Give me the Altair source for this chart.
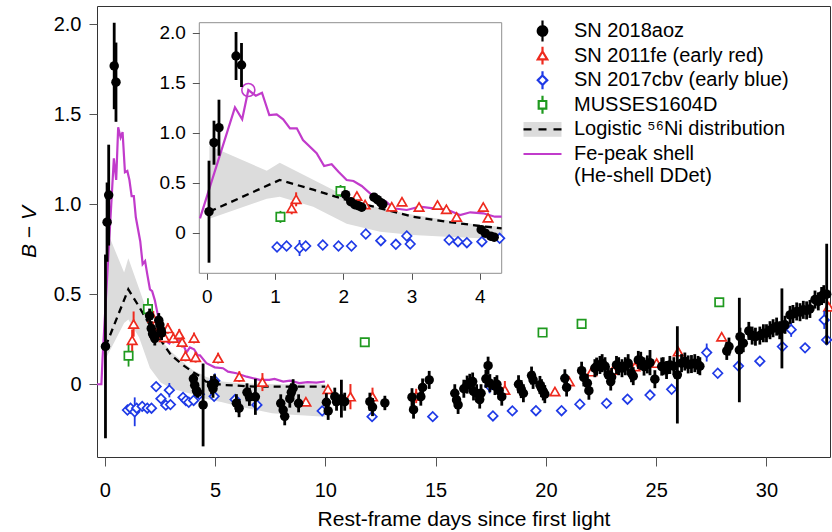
import altair as alt
import pandas as pd

FONT = "Liberation Sans"
BLACK = "#000000"
RED = "#ee2a1e"
BLUE = "#1f3ae6"
GREEN = "#1f9a1f"
MAGENTA = "#c13bcb"
BAND = "#dcdcdc"

# ---------------- data ----------------
# SN 2018aoz : rest-frame day, B-V, 1-sigma error
AOZ_DAY = [0.034, 0.107, 0.18, 0.43, 0.51,
           2.035, 2.11, 2.17, 2.22, 2.27, 2.45, 2.50, 2.55, 2.58,
           4.02, 4.08, 4.16, 4.21, 4.46, 4.84, 4.91, 4.98,
           5.97, 6.09, 6.45, 6.56, 6.83, 7.98, 8.09, 8.16, 8.39, 8.46, 8.54, 8.79,
           10.05, 10.13, 10.43, 10.51, 10.73, 10.88, 12.02, 12.14, 12.70,
           13.93, 14.00, 14.33, 14.41, 14.71, 15.87, 15.95, 16.02, 16.28, 16.43, 16.55,
           16.68, 16.72, 16.86, 17.00, 17.06, 17.28, 17.38, 17.46, 17.69, 17.78, 17.88, 18.00,
           18.76, 18.88, 18.98, 19.35, 19.42, 19.73, 19.80, 19.88, 19.95, 20.86, 20.94,
           21.62, 21.72, 21.88, 21.95, 22.22, 22.30, 22.45, 22.55, 22.68, 22.83, 22.94, 22.98,
           23.20, 23.30, 23.45, 23.60, 23.73, 23.88, 23.96, 24.19, 24.30, 24.45, 24.60, 24.72, 24.94,
           25.25, 25.32, 25.47, 25.62, 25.80, 25.96, 26.15, 26.30, 26.45, 26.60, 26.75, 26.90, 26.98,
           28.20, 28.30, 28.77, 28.80, 28.95, 29.20, 29.35, 29.50, 29.70, 29.86, 30.00,
           30.16, 30.30, 30.46, 30.60, 30.70, 30.84, 31.07, 31.20, 31.37, 31.52, 31.67, 31.82,
           31.97, 32.20, 32.35, 32.50, 32.60, 32.73]
AOZ_BV = [0.21, 0.90, 1.05, 1.767, 1.677,
          0.38, 0.31, 0.28, 0.27, 0.255, 0.355, 0.33, 0.30, 0.285,
          0.03, -0.005, -0.035, -0.045, -0.115, -0.004, -0.025, 0.005,
          -0.105, -0.133, -0.045, -0.07, -0.07, -0.106, -0.143, -0.178, -0.08, -0.045, -0.022, -0.106,
          -0.10, -0.148, -0.069, -0.097, -0.08, -0.097, -0.097, -0.127, -0.104,
          -0.072, -0.141, -0.069, -0.018, 0.024, -0.05, -0.087, -0.115, -0.025, -0.002, 0.008,
          0.015, -0.04, -0.05, -0.085, -0.05, 0.03, 0.103, 0.006, -0.01, 0.0, -0.035, -0.069,
          0.0, -0.027, -0.05, 0.048, 0.024, -0.004, -0.022, -0.04, -0.055, 0.033, -0.018,
          0.075, 0.038, 0.006, -0.036, 0.089, 0.098, 0.107, 0.117, 0.10, 0.052, 0.015, 0.04,
          0.107, 0.10, 0.089, 0.10, 0.117, 0.061, 0.045, 0.135, 0.13, 0.098, 0.11, 0.12, 0.028,
          0.098, 0.10, 0.079, 0.107, 0.10, 0.052, 0.117, 0.126, 0.11, 0.112, 0.117, 0.107, 0.10,
          0.185, 0.209, 0.19, 0.264, 0.228, 0.296, 0.27, 0.264, 0.27, 0.283, 0.283,
          0.30, 0.311, 0.32, 0.30, 0.31, 0.33, 0.385, 0.39, 0.404, 0.40, 0.413, 0.41,
          0.418, 0.47, 0.46, 0.49, 0.50, 0.50]
AOZ_ERR = [0.51, 0.22, 0.28, 0.24, 0.22,
           0.04, 0.04, 0.04, 0.04, 0.04, 0.04, 0.04, 0.04, 0.04,
           0.03, 0.03, 0.03, 0.03, 0.23, 0.05, 0.05, 0.05,
           0.05, 0.05, 0.05, 0.05, 0.10, 0.05, 0.05, 0.05, 0.05, 0.05, 0.05, 0.05,
           0.05, 0.05, 0.05, 0.05, 0.105, 0.05, 0.05, 0.05, 0.04,
           0.05, 0.05, 0.05, 0.05, 0.05, 0.05, 0.05, 0.05, 0.05, 0.05, 0.05,
           0.05, 0.05, 0.05, 0.05, 0.05, 0.05, 0.05, 0.05, 0.05, 0.05, 0.05, 0.05,
           0.05, 0.05, 0.05, 0.05, 0.05, 0.05, 0.05, 0.05, 0.05, 0.05, 0.05,
           0.05, 0.05, 0.05, 0.05, 0.05, 0.05, 0.05, 0.05, 0.05, 0.05, 0.05, 0.05,
           0.05, 0.05, 0.05, 0.05, 0.05, 0.05, 0.05, 0.05, 0.05, 0.05, 0.05, 0.07, 0.05,
           0.05, 0.05, 0.05, 0.05, 0.05, 0.27, 0.05, 0.05, 0.05, 0.05, 0.05, 0.05, 0.05,
           0.05, 0.05, 0.29, 0.05, 0.05, 0.05, 0.05, 0.05, 0.05, 0.05, 0.05,
           0.05, 0.05, 0.05, 0.05, 0.222, 0.05, 0.05, 0.05, 0.05, 0.05, 0.05, 0.05,
           0.05, 0.05, 0.05, 0.05, 0.05, 0.28]

# SN 2011fe (early red)
FE_DAY = [1.245, 1.31, 2.2, 2.32, 2.71, 2.86, 3.11, 3.38, 3.51, 3.66, 4.05, 4.12, 5.14, 6.1,
          7.15, 9.12, 10.12, 11.14, 12.14, 14.12, 18.14, 20.41, 21.06, 22.07, 23.05, 24.04,
          25.02, 26.0, 27.97, 32.82]
FE_BV = [0.244, 0.334, 0.367, 0.282, 0.26, 0.31, 0.257, 0.277, 0.234, 0.157, 0.257, 0.15, 0.145,
         0.042, 0.012, -0.097, -0.028, -0.069, -0.069, -0.065, -0.032, -0.04, 0.015, 0.07, 0.079,
         0.098, 0.117, 0.181, 0.264, 0.43]
FE_ERR = [0.06, 0.07, 0.04, 0.03, 0.03, 0.03, 0.03, 0.03, 0.03, 0.03, 0.03, 0.03, 0.03, 0.03,
          0.05, 0.02, 0.02, 0.07, 0.05, 0.04, 0.05, 0.02, 0.02, 0.02, 0.02, 0.02, 0.02, 0.02,
          0.02, 0.02]

# SN 2017cbv (early blue)
CBV_DAY = [1.03, 1.17, 1.36, 1.45, 1.70, 1.93, 2.12, 2.33, 2.55, 2.77, 2.93, 2.98, 3.55, 3.68,
           3.81, 4.03, 4.29, 4.96, 4.99, 5.91, 6.9, 9.86, 12.12, 14.87, 17.45, 17.6, 18.48,
           19.55, 20.71, 21.54, 22.75, 23.7, 24.72, 25.7, 27.29, 27.79, 28.73, 29.7, 30.72,
           31.12, 31.75, 32.62, 32.73]
CBV_BV = [-0.143, -0.133, -0.153, -0.133, -0.123, -0.133, -0.133, -0.013, -0.08, -0.116, -0.033,
          -0.113, -0.073, -0.09, -0.1, -0.09, -0.056, -0.067, 0.02, -0.085, -0.115, -0.148, -0.18,
          -0.18, -0.01, -0.176, -0.148, -0.147, -0.147, -0.111, -0.106, -0.083, -0.06, -0.028,
          0.176, 0.061, 0.101, 0.128, 0.209, 0.303, 0.202, 0.357, 0.246]
CBV_ERR = [0.02, 0.02, 0.08, 0.02, 0.02, 0.02, 0.02, 0.02, 0.02, 0.02, 0.04, 0.02, 0.02, 0.02,
           0.02, 0.02, 0.02, 0.02, 0.04, 0.02, 0.02, 0.02, 0.02, 0.02, 0.04, 0.02, 0.02, 0.02,
           0.02, 0.02, 0.02, 0.02, 0.02, 0.02, 0.05, 0.02, 0.02, 0.02, 0.02, 0.04, 0.02, 0.05,
           0.02]

# MUSSES1604D
MUS_DAY = [1.08, 1.96, 11.79, 19.85, 21.62, 27.86]
MUS_BV = [0.158, 0.417, 0.233, 0.287, 0.335, 0.455]
MUS_ERR = [0.06, 0.06, 0.0, 0.0, 0.0, 0.0]

# Logistic 56Ni distribution: median curve and range
NI_LINE_DAY = [0.04, 1.07, 1.56, 2.05, 2.54, 3.02, 3.51, 4.0, 4.32, 4.58, 5.33, 6.84, 8.5, 10.0]
NI_LINE_BV = [0.21, 0.527, 0.43, 0.327, 0.244, 0.16, 0.11, 0.067, 0.044, 0.015, -0.004, -0.013,
              -0.013, -0.013]
NI_BAND_DAY = [0.04, 0.88, 1.07, 1.56, 2.05, 2.54, 3.02, 3.51, 4.0, 4.32, 4.58, 5.33, 6.09, 7.59,
               8.5, 10.0]
NI_BAND_HI = [0.87, 0.62, 0.70, 0.53, 0.36, 0.245, 0.18, 0.127, 0.077, 0.06, 0.042, 0.015, 0.005,
              0.0, 0.0, 0.0]
NI_BAND_LO = [0.14, 0.34, 0.36, 0.26, 0.09, 0.01, -0.023, -0.04, -0.056, -0.07, -0.08, -0.1,
              -0.124, -0.161, -0.17, -0.18]

# Fe-peak shell (He-shell DDet) model
SHELL_DAY = [-0.35, -0.15, -0.098, 0.414, 0.52, 0.61, 0.72, 0.81, 0.917, 1.025, 1.12, 1.22, 1.32,
             1.41, 1.61, 1.72, 1.83, 1.93, 2.05, 2.15, 2.27, 2.42, 2.54, 2.63, 2.73, 2.93, 3.12,
             3.32, 3.51, 3.71, 3.86, 4.05, 4.22, 4.32, 4.61, 4.99, 5.36, 5.59, 5.97, 6.43, 6.73,
             7.03, 7.46, 7.7, 8.09, 8.4, 8.82, 9.2, 9.6, 9.98]
SHELL_BV = [0.0, 0.0, 0.144, 1.254, 1.134, 1.427, 1.37, 1.40, 1.177, 1.184, 1.134, 1.044, 1.044,
            0.927, 0.794, 0.667, 0.684, 0.61, 0.527, 0.517, 0.467, 0.377, 0.334, 0.31, 0.244,
            0.227, 0.26, 0.244, 0.234, 0.177, 0.204, 0.194, 0.16, 0.16, 0.117, 0.094, 0.089,
            0.07, 0.061, 0.042, 0.033, 0.024, 0.024, 0.03, 0.015, 0.02, 0.006, 0.012, 0.009,
            0.015]

LEGEND_LABELS = ["SN 2018aoz", "SN 2011fe (early red)", "SN 2017cbv (early blue)",
                 "MUSSES1604D", "Logistic \u2075\u2076Ni distribution",
                 "Fe-peak shell (He-shell DDet)"]

X_TICKS = [0, 5, 10, 15, 20, 25, 30]
Y_TICKS = [0, 0.5, 1.0, 1.5, 2.0]
INSET_X_TICKS = [0, 1, 2, 3, 4]

# ---------------- layout ----------------
MAIN_X = [-0.35, 32.88]
MAIN_Y = [-0.404, 2.10]
INSET_X = [-0.108, 4.32]
INSET_Y = [-0.406, 2.10]
W, H = 733, 451
INSET_RANGE_X = [102.3, 404.7]
INSET_RANGE_Y = [267.3, 16.7]


def points(day, bv, err):
    return pd.DataFrame({"day": day, "bv": bv,
                         "lo": [b - e for b, e in zip(bv, err)],
                         "hi": [b + e for b, e in zip(bv, err)]})


aoz = points(AOZ_DAY, AOZ_BV, AOZ_ERR)
fe = points(FE_DAY, FE_BV, FE_ERR)
cbv = points(CBV_DAY, CBV_BV, CBV_ERR)
mus = points(MUS_DAY, MUS_BV, MUS_ERR)
ni_line = pd.DataFrame({"day": NI_LINE_DAY, "bv": NI_LINE_BV})
ni_band = pd.DataFrame({"day": NI_BAND_DAY, "lo": NI_BAND_LO, "hi": NI_BAND_HI})
shell = pd.DataFrame({"day": SHELL_DAY, "bv": SHELL_BV})
peak = shell.loc[[shell["bv"].idxmax()]]
frame = pd.DataFrame({"x0": [INSET_X[0]], "x1": [INSET_X[1]],
                      "y0": [INSET_Y[0]], "y1": [INSET_Y[1]]})

Y_LABEL_EXPR = "datum.value == 0 ? '0' : format(datum.value, '.1f')"

main_x_axis = alt.Axis(values=X_TICKS, title="Rest-frame days since first light", orient="bottom",
                       domain=False, grid=False, tickSize=9, tickColor="#555",
                       labelFontSize=20, labelPadding=14, titleFontSize=21,
                       titleFontWeight="normal", titlePadding=8, labelFlush=False)
main_y_axis = alt.Axis(values=Y_TICKS, title="B \u2212 V", orient="left", domain=False,
                       grid=False, tickSize=8, tickColor="#555", labelFontSize=20,
                       labelPadding=8, labelExpr=Y_LABEL_EXPR, titleFontSize=21,
                       titleFontWeight="normal", titleFontStyle="italic", titlePadding=14,
                       labelFlush=False)
inset_x_axis = alt.Axis(values=INSET_X_TICKS, title=None, orient="bottom",
                        offset=INSET_RANGE_Y[0] - H, domain=False, grid=False, tickSize=6,
                        tickColor="#555", labelFontSize=19, labelPadding=8, labelFlush=False,
                        zindex=1)
inset_y_axis = alt.Axis(values=Y_TICKS, title=None, orient="left", offset=-INSET_RANGE_X[0],
                        domain=False, grid=False, tickSize=7, tickColor="#555",
                        labelFontSize=19, labelPadding=7, labelExpr=Y_LABEL_EXPR,
                        labelFlush=False, zindex=1)


def MX(f):
    return alt.X(f, type="quantitative",
                 scale=alt.Scale(domain=MAIN_X, nice=False, zero=False), axis=main_x_axis)


def MY(f):
    return alt.Y(f, type="quantitative",
                 scale=alt.Scale(domain=MAIN_Y, nice=False, zero=False), axis=main_y_axis)


def IX(f):
    return alt.X(f, type="quantitative",
                 scale=alt.Scale(domain=INSET_X, range=INSET_RANGE_X, nice=False, zero=False),
                 axis=inset_x_axis)


def IY(f):
    return alt.Y(f, type="quantitative",
                 scale=alt.Scale(domain=INSET_Y, range=INSET_RANGE_Y, nice=False, zero=False),
                 axis=inset_y_axis)


def keep_all(df):
    return df


def keep_inset(df):
    return df[(df["day"] >= INSET_X[0]) & (df["day"] <= INSET_X[1])]


SERIES = [
    (fe, RED, "triangle-up", 90, 2.0),
    (cbv, BLUE, "diamond", 90, 1.8),
    (mus, GREEN, "square", 70, 1.8),
    (aoz, BLACK, "circle", 90, 2.8),
]


def panel(X, Y, sel, inset):
    layers = []
    if inset:
        layers.append(alt.Chart(frame).mark_rect(fill="white", stroke="#8f8f8f", strokeWidth=1)
                      .encode(x=X("x0"), x2=alt.X2("x1"), y=Y("y0"), y2=alt.Y2("y1")))
    layers.append(alt.Chart(sel(ni_band)).mark_area(color=BAND, opacity=1)
                  .encode(x=X("day"), y=Y("lo"), y2=alt.Y2("hi")))
    layers.append(alt.Chart(sel(ni_line)).mark_line(color=BLACK, strokeWidth=2.3,
                                                    strokeDash=[7, 5])
                  .encode(x=X("day"), y=Y("bv")))
    layers.append(alt.Chart(sel(shell)).mark_line(color=MAGENTA, strokeWidth=2.2)
                  .encode(x=X("day"), y=Y("bv")))
    if inset:
        layers.append(alt.Chart(peak).mark_point(shape="circle", size=170, filled=False,
                                                 color=MAGENTA, strokeWidth=1.6, opacity=1)
                      .encode(x=X("day"), y=Y("bv")))
    for df, col, shp, size, ew in SERIES:
        d = sel(df)
        layers.append(alt.Chart(d).mark_rule(color=col, strokeWidth=ew)
                      .encode(x=X("day"), y=Y("lo"), y2=alt.Y2("hi")))
        if col == BLACK:
            mk = alt.Chart(d).mark_point(shape=shp, size=size, filled=True, color=col, opacity=1)
        else:
            mk = alt.Chart(d).mark_point(shape=shp, size=size, filled=False, color=col,
                                         fill="white", fillOpacity=1, strokeWidth=1.7,
                                         opacity=1)
        layers.append(mk.encode(x=X("day"), y=Y("bv")))
    return layers


# legend symbols (unit square -1..1, symbol size 38 px)
P_CIRCLE = "M0.25,0A0.25,0.25,0,1,1,-0.25,0A0.25,0.25,0,1,1,0.25,0ZM0,-0.55L0,0.55"
P_TRI = "M0,-0.22L0.25,0.2L-0.25,0.2ZM0,-0.47L0,-0.22M0,0.2L0,0.47"
P_DIAM = "M0,-0.25L0.25,0L0,0.25L-0.25,0ZM0,-0.47L0,-0.25M0,0.25L0,0.47"
P_SQ = "M-0.2,-0.2L0.2,-0.2L0.2,0.2L-0.2,0.2ZM0,-0.47L0,-0.2M0,0.2L0,0.47"
P_BAND = "M-1,0L1,0L1,-0.39L-1,-0.39L-1,0.39L1,0.39L1,0Z"
P_LINE = "M-1,0L1,0"

leg = alt.Legend(title=None, orient="none", legendX=425, legendY=14, labelFont=FONT,
                 labelFontSize=20, labelColor="black", clipHeight=22, rowPadding=2.6,
                 symbolSize=1444, symbolStrokeWidth=2.2, labelOffset=11, labelLimit=500,
                 labelExpr="datum.label == 'Fe-peak shell (He-shell DDet)' ? "
                           "['Fe-peak shell', '(He-shell DDet)'] : datum.label")

legend_df = pd.DataFrame({"series": LEGEND_LABELS, "day": [None] * 6, "bv": [None] * 6})
legend_layer = alt.Chart(legend_df).mark_point(opacity=1).encode(
    x=MX("day"), y=MY("bv"),
    shape=alt.Shape("series:N", scale=alt.Scale(domain=LEGEND_LABELS,
                                                range=[P_CIRCLE, P_TRI, P_DIAM, P_SQ, P_BAND,
                                                       P_LINE]), legend=leg),
    stroke=alt.Stroke("series:N", scale=alt.Scale(domain=LEGEND_LABELS,
                                                  range=[BLACK, RED, BLUE, GREEN, BLACK,
                                                         MAGENTA]), legend=leg),
    fill=alt.Fill("series:N", scale=alt.Scale(domain=LEGEND_LABELS,
                                              range=[BLACK, "white", "white", "white", BAND,
                                                     "white"]), legend=leg),
    strokeDash=alt.StrokeDash("series:N",
                              scale=alt.Scale(domain=LEGEND_LABELS,
                                              range=[[1, 0], [1, 0], [1, 0], [1, 0],
                                                     [8, 7, 8, 7, 8, 400], [1, 0]]),
                              legend=leg),
)

main = alt.layer(*panel(MX, MY, keep_all, False), legend_layer)
inset = alt.layer(*panel(IX, IY, keep_inset, True))

chart = (alt.layer(main, inset)
         .resolve_scale(x="independent", y="independent")
         .properties(width=W, height=H, autosize=alt.AutoSizeParams(type="none"),
                     padding={"left": 97, "top": 6, "right": 2, "bottom": 75},
                     background="white")
         .configure_view(stroke="#333", strokeWidth=1)
         .configure_axis(labelFont=FONT, titleFont=FONT, labelColor="black",
                         titleColor="black")
         .configure_legend(labelFont=FONT))

chart.save("out.html", embed_options={"renderer": "svg", "actions": False})
